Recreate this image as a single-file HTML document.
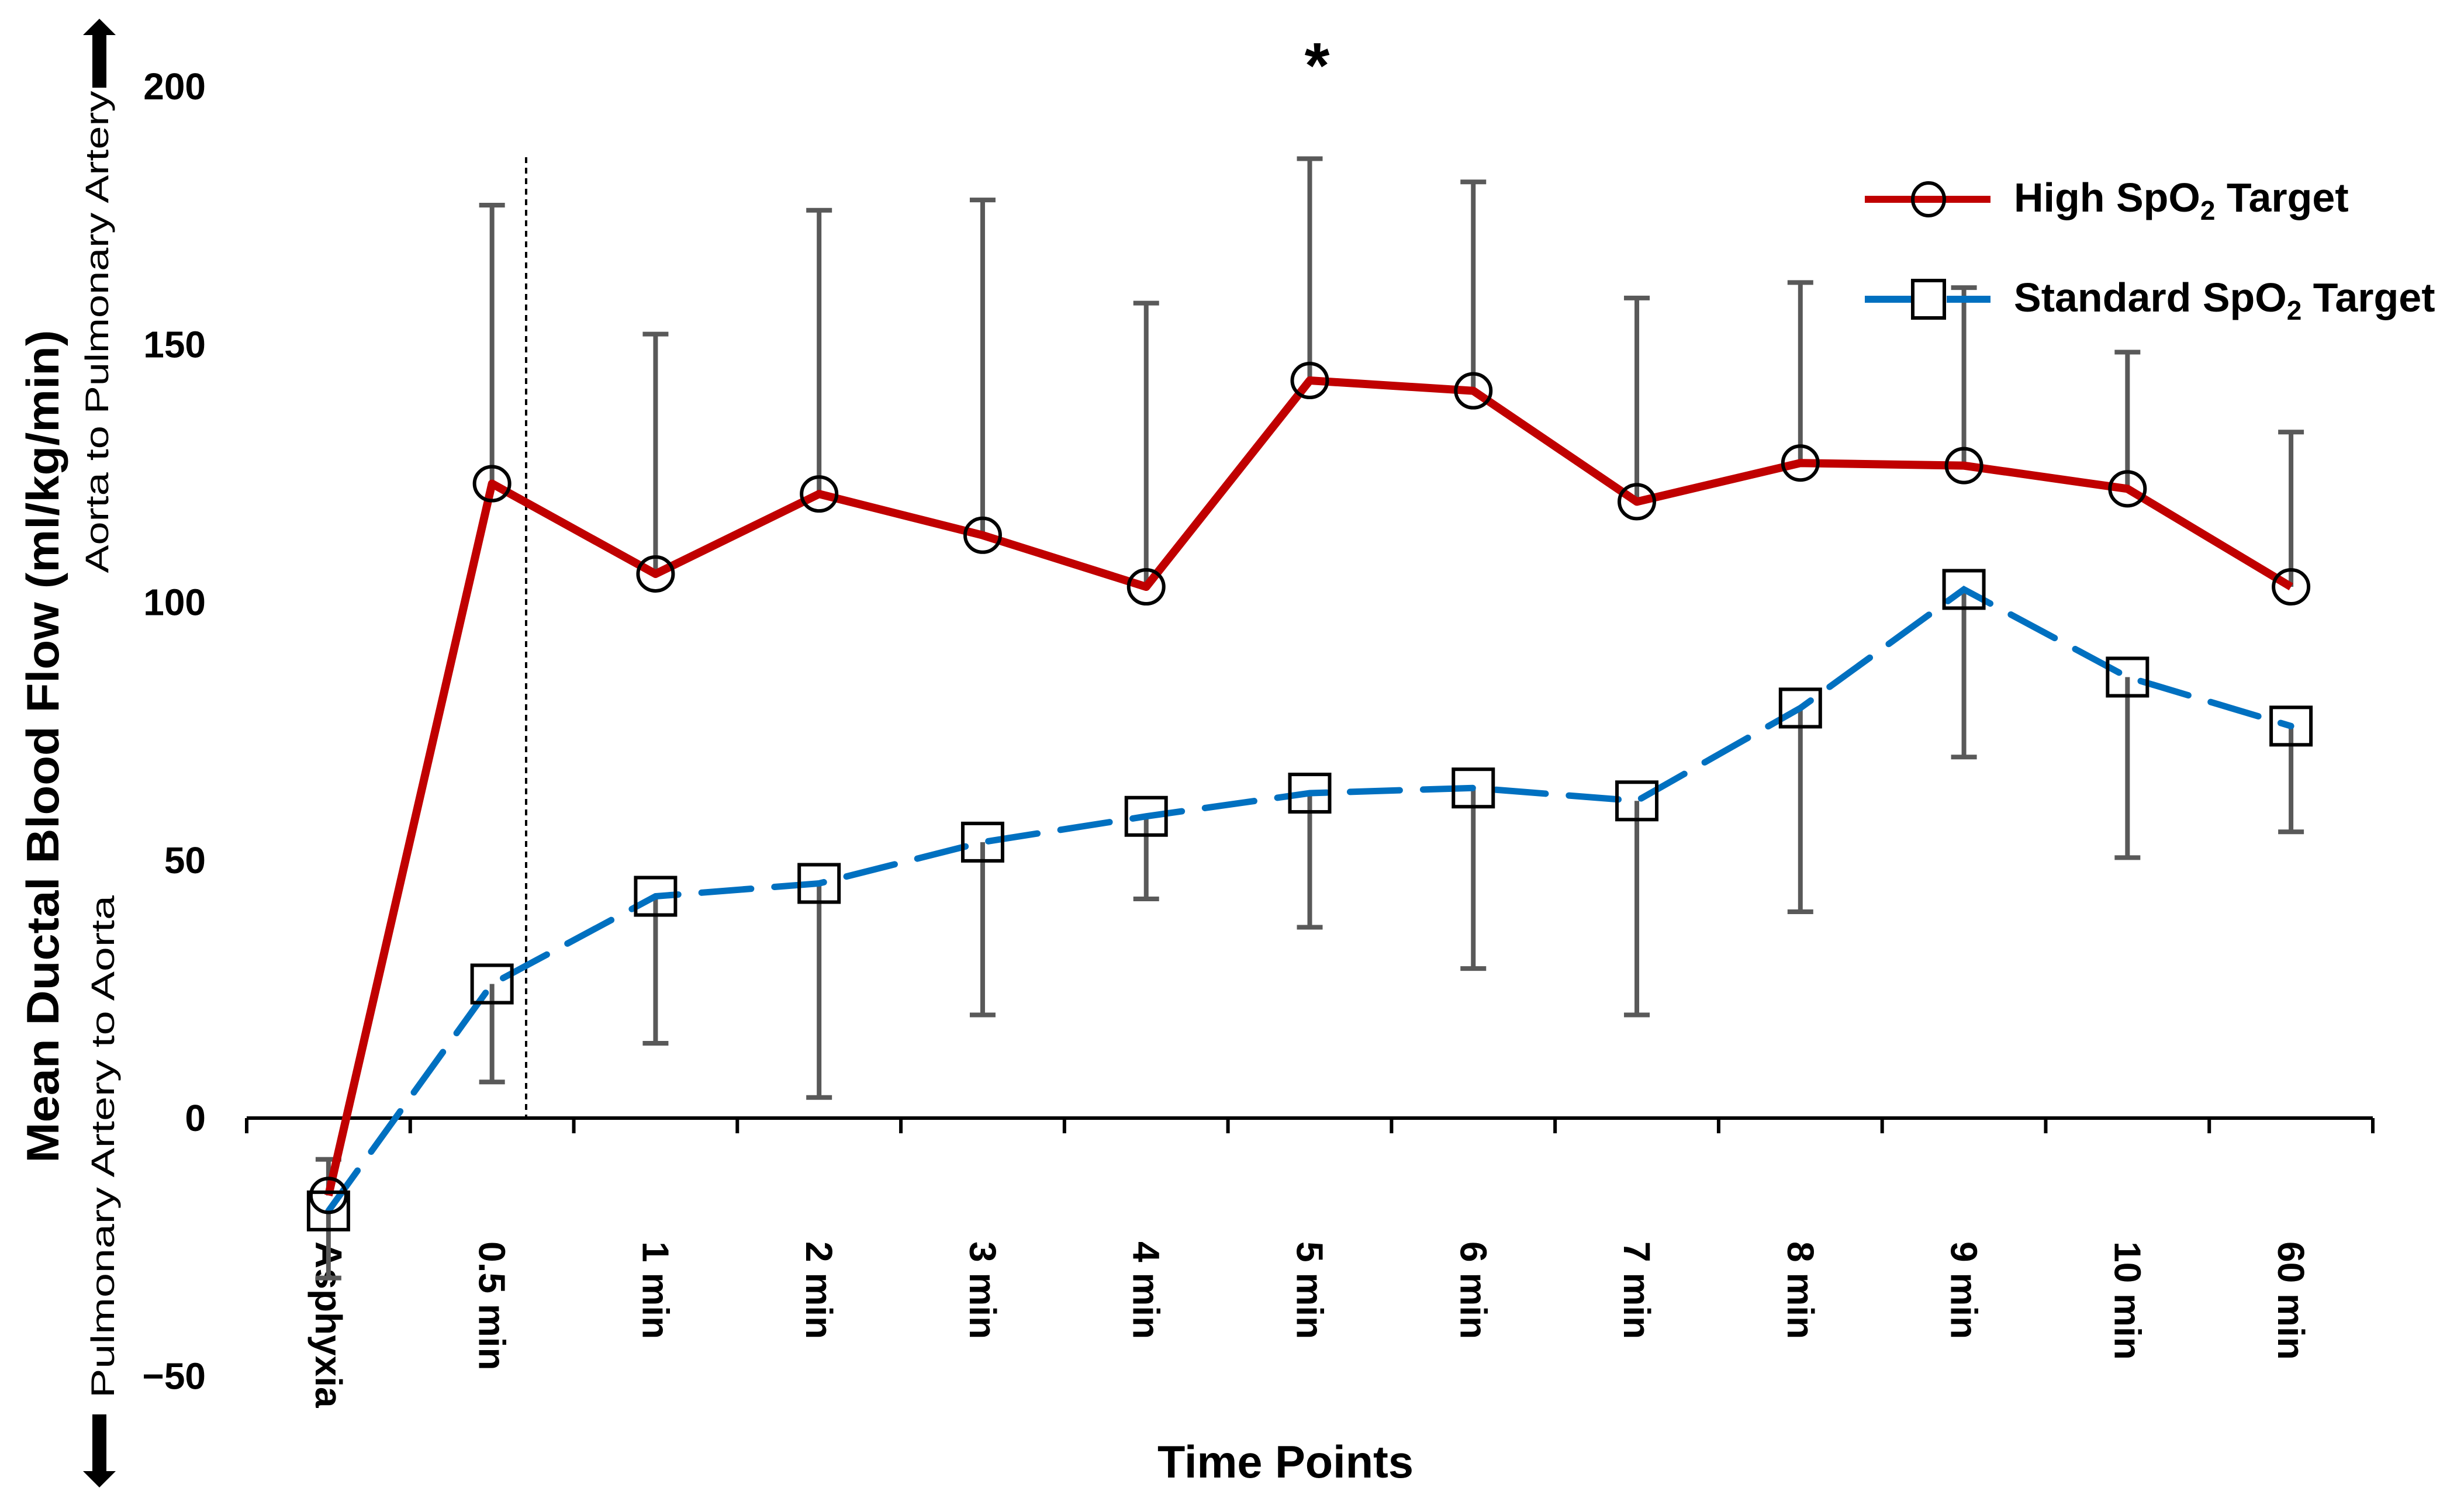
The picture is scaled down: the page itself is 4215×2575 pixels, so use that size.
<!DOCTYPE html>
<html><head><meta charset="utf-8"><style>
html,body{margin:0;padding:0;background:#fff;}
svg{display:block;font-family:"Liberation Sans Narrow","Liberation Sans",sans-serif;}
</style></head><body>
<svg id="chart" width="4215" height="2575" viewBox="0 0 4215 2575" xmlns="http://www.w3.org/2000/svg">
<g id="grid"></g>
<text x="0" y="0" transform="translate(100,1277) rotate(-90)" text-anchor="middle" font-size="78" font-weight="bold" textLength="1425" lengthAdjust="spacingAndGlyphs">Mean Ductal Blood Flow (ml/kg/min)</text>
<text transform="translate(185,568) rotate(-90)" text-anchor="middle" font-size="56" textLength="825" lengthAdjust="spacingAndGlyphs">Aorta to Pulmonary Artery</text>
<text transform="translate(195,1962) rotate(-90)" text-anchor="middle" font-size="56" textLength="860" lengthAdjust="spacingAndGlyphs">Pulmonary Artery to Aorta</text>
<polygon points="170,32 198,60 182,60 182,150 158,150 158,60 142,60" fill="#000"/>
<polygon points="170,2545 198,2517 182,2517 182,2420 158,2420 158,2517 142,2517" fill="#000"/>
<text x="2199" y="2528" text-anchor="middle" font-size="78" font-weight="bold" textLength="438" lengthAdjust="spacingAndGlyphs">Time Points</text>
<text x="2253" y="150" text-anchor="middle" font-size="110" font-weight="bold">*</text>
<line x1="900" y1="269" x2="900" y2="1913" stroke="#000" stroke-width="4" stroke-dasharray="10,8"/>
<g id="plot"></g>
<g>
 <line x1="3190" y1="341" x2="3405" y2="341" stroke="#C00000" stroke-width="12"/>
 <ellipse cx="3299" cy="341" rx="27" ry="28" fill="none" stroke="#000" stroke-width="6"/>
 <text x="3445" y="362" font-size="70" font-weight="bold">High SpO<tspan font-size="46" dy="14">2</tspan><tspan dy="-14"> Target</tspan></text>
 <line x1="3190" y1="512" x2="3285" y2="512" stroke="#0070C0" stroke-width="12"/>
 <line x1="3330" y1="512" x2="3405" y2="512" stroke="#0070C0" stroke-width="12"/>
 <rect x="3272" y="480" width="54" height="64" fill="#fff" stroke="#000" stroke-width="6"/>
 <text x="3445" y="533" font-size="70" font-weight="bold">Standard SpO<tspan font-size="46" dy="14">2</tspan><tspan dy="-14"> Target</tspan></text>
</g>
</svg>
<script>
const categories=["Asphyxia","0.5 min","1 min","2 min","3 min","4 min","5 min","6 min","7 min","8 min","9 min","10 min","60 min"];
const highMean=[-15,123,105.5,121,113,103,143,141,119.5,127,126.5,122,103];
const highUpper=[-8,177,152,176,178,158,186,181.5,159,162,161,148.5,133];
const stdMean=[-18,26,43,45.5,53.5,58.5,63,64,61.5,79.5,102.5,85.5,76];
const stdLower=[-31,7,14.5,4,20,42.5,37,29,20,40,70,50.5,55.5];
const yTicks=[-50,0,50,100,150,200];

const NS="http://www.w3.org/2000/svg";
const X0=422,X1=4059,Y0=1913,PER=(1913-148)/200;
const step=(X1-X0)/categories.length;
function xs(i){return X0+(i+0.5)*step;}
function ys(v){return Y0-v*PER;}
function mk(tag,attrs,parent){const e=document.createElementNS(NS,tag);for(const k in attrs)e.setAttribute(k,attrs[k]);parent.appendChild(e);return e;}
const grid=document.getElementById('grid'),plot=document.getElementById('plot');

let ax=mk('line',{x1:X0,y1:Y0,x2:X1,y2:Y0,stroke:'#000','stroke-width':6},grid);


for(let k=0;k<=categories.length;k++){
 let t=mk('line',{x1:X0+k*step,y1:Y0,x2:X0+k*step,y2:Y0+26,stroke:'#000','stroke-width':6},grid);
 
 
}
categories.forEach((c,i)=>{
 let t=mk('text',{transform:`translate(${xs(i)-22},2124) rotate(90)`,'font-size':64,'font-weight':'bold'},grid);
 t.textContent=c;
 
 
});
yTicks.forEach(v=>{
 let t=mk('text',{x:352,y:ys(v)+22,'text-anchor':'end','font-size':64,'font-weight':'bold','font-family':'Liberation Sans, sans-serif'},grid);
 t.textContent=v<0?'\u2212'+Math.abs(v):String(v);
 
 
});

function ebar(i,from,to){
 let g=mk('g',{},plot);
 
 
 mk('line',{x1:xs(i),y1:ys(from),x2:xs(i),y2:ys(to),stroke:'#595959','stroke-width':8},g);
 mk('line',{x1:xs(i)-22,y1:ys(to),x2:xs(i)+22,y2:ys(to),stroke:'#595959','stroke-width':8},g);
}
highMean.forEach((m,i)=>ebar(i,m,highUpper[i]));
stdMean.forEach((m,i)=>ebar(i,m,stdLower[i]));

let hp=mk('polyline',{points:highMean.map((v,i)=>xs(i)+','+ys(v)).join(' '),fill:'none',stroke:'#C00000','stroke-width':14,'stroke-linejoin':'round'},plot);


let sp=mk('polyline',{points:stdMean.map((v,i)=>xs(i)+','+ys(v)).join(' '),fill:'none',stroke:'#0070C0','stroke-width':11,'stroke-dasharray':'85,40','stroke-linecap':'round'},plot);



highMean.forEach((v,i)=>{
 let c=mk('ellipse',{cx:xs(i),cy:ys(v),rx:30,ry:29,fill:'none',stroke:'#000','stroke-width':6},plot);
 
 
});
stdMean.forEach((v,i)=>{
 let r=mk('rect',{x:xs(i)-34,y:ys(v)-32,width:68,height:64,fill:'none',stroke:'#000','stroke-width':6},plot);
 
 
});
</script>
</body></html>
